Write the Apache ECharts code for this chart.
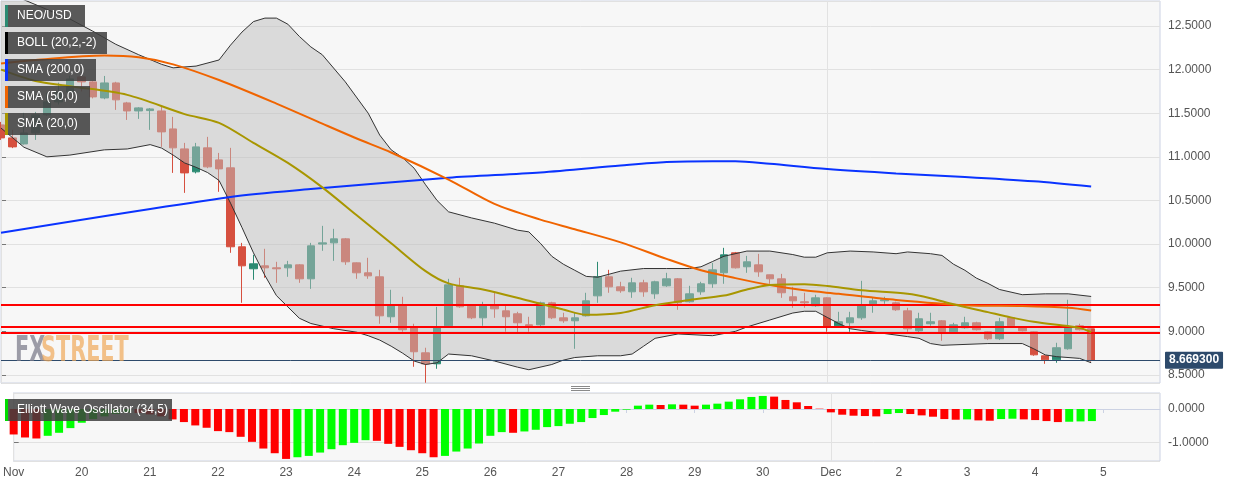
<!DOCTYPE html>
<html><head><meta charset="utf-8">
<script src="https://cdn.jsdelivr.net/npm/echarts@6/dist/echarts.min.js"></script>
<style>html,body{margin:0;padding:0;background:#fff}#c{width:1244px;height:486px}</style>
</head><body><div id="c"></div>
<script>
// x labels, one per day (every 6 four-hour candles), starting Nov 19 00:00
const dayLabels = ['Nov','20','21','22','23','24','25','26','27','28','29','30','Dec','2','3','4','5'];

// NEO/USD 4-hour candles from Nov 19 00:00: [open, close, low, high]
const candles = [
  [11.366,11.217,11.194,11.40],[11.217,11.114,11.10,11.309],[11.148,11.274,11.14,11.504],[11.274,11.481,11.194,11.515],
  [11.481,11.630,11.47,11.733],[11.630,11.744,11.60,11.85],[11.744,11.893,11.73,11.93],[11.916,11.859,11.75,11.93],
  [11.859,11.687,11.67,11.87],[11.675,11.847,11.66,11.927],[11.847,11.653,11.538,11.86],[11.618,11.526,11.423,11.63],
  [11.526,11.561,11.435,11.57],[11.530,11.549,11.309,11.56],[11.526,11.286,11.114,11.572],[11.320,11.103,10.816,11.458],
  [11.091,10.816,10.587,11.160],[10.828,11.114,10.81,11.160],[11.103,10.885,10.87,11.229],[10.965,10.862,10.599,11.045],
  [10.874,9.969,9.90,11.103],[9.969,9.751,9.327,10.014],[9.717,9.774,9.591,9.877],[9.751,9.728,9.614,9.946],
  [9.728,9.717,9.556,9.797],[9.728,9.762,9.625,9.808],[9.762,9.602,9.556,9.770],[9.602,9.980,9.487,10.014],
  [10.000,10.014,9.923,10.209],[10.014,10.060,9.808,10.175],[10.060,9.797,9.762,10.070],[9.785,9.671,9.602,9.790],
  [9.671,9.636,9.602,9.843],[9.625,9.178,9.087,9.705],[9.167,9.304,9.098,9.476],[9.304,9.018,8.995,9.396],
  [9.052,8.766,8.594,9.087],[8.754,8.628,8.411,8.812],[8.628,9.041,8.571,9.281],[9.064,9.533,9.050,9.602],
  [9.522,9.281,9.270,9.614],[9.293,9.155,9.140,9.300],[9.155,9.293,9.064,9.339],[9.304,9.258,9.155,9.442],
  [9.235,9.167,8.995,9.293],[9.201,9.098,8.972,9.224],[9.075,9.064,8.995,9.167],[9.075,9.327,9.060,9.340],
  [9.327,9.155,9.140,9.339],[9.155,9.121,9.098,9.213],[9.121,9.155,8.800,9.213],[9.178,9.350,9.170,9.442],
  [9.407,9.625,9.327,9.797],[9.625,9.510,9.442,9.705],[9.510,9.465,9.442,9.568],[9.453,9.556,9.384,9.614],
  [9.556,9.453,9.396,9.591],[9.430,9.568,9.373,9.580],[9.522,9.602,9.510,9.671],[9.602,9.327,9.247,9.610],
  [9.339,9.430,9.330,9.522],[9.453,9.545,9.419,9.568],[9.545,9.705,9.499,9.785],[9.671,9.877,9.545,9.957],
  [9.900,9.728,9.720,9.910],[9.740,9.797,9.671,9.865],[9.762,9.682,9.625,9.888],[9.648,9.602,9.545,9.650],
  [9.602,9.442,9.384,9.659],[9.396,9.350,9.270,9.510],[9.339,9.327,9.270,9.442],[9.293,9.384,9.281,9.419],
  [9.384,9.052,8.995,9.390],[9.064,9.110,9.050,9.224],[9.098,9.155,8.995,9.224],[9.155,9.293,9.132,9.579],
  [9.316,9.350,9.213,9.384],[9.350,9.362,9.316,9.396],[9.327,9.247,9.235,9.340],[9.235,9.029,8.995,9.270],
  [9.006,9.144,8.990,9.213],[9.087,9.110,9.064,9.213],[9.121,8.983,8.892,9.130],[8.995,9.075,8.980,9.098],
  [9.041,9.098,9.030,9.167],[9.098,9.018,9.010,9.110],[8.995,8.915,8.900,9.000],[8.915,9.110,8.900,9.155],
  [9.155,9.064,9.050,9.160],[9.041,9.006,9.000,9.050],[8.995,8.731,8.720,9.000],[8.720,8.674,8.628,8.720],
  [8.674,8.812,8.640,8.869],[8.800,9.041,8.790,9.362],[9.064,9.018,9.010,9.087],[9.029,8.6693,8.650,9.030]
];

// Bollinger (20,2) upper / lower, sampled at candle indices
const bbUpperIdx = [0,2,4,6,8,10,12,14,15,17,19,20,21,22,23,24,25,26,27,28,30,32,33,34,35,36,37,38,39,41,43,45,46,47,48,49,50,51,52,54,56,58,60,61,62,63,65,67,69,70,71,72,74,76,78,79,81,82,83,84,85,86,87,89,91,93,95];
const bbUpper = [12.89,12.80,12.69,12.58,12.44,12.29,12.17,12.06,12.02,12.04,12.11,12.28,12.43,12.55,12.59,12.59,12.52,12.38,12.26,12.17,11.86,11.50,11.25,11.08,10.99,10.87,10.68,10.50,10.37,10.30,10.24,10.16,10.14,10.01,9.86,9.77,9.70,9.63,9.62,9.69,9.72,9.72,9.72,9.74,9.80,9.86,9.92,9.92,9.88,9.85,9.85,9.90,9.92,9.91,9.89,9.91,9.89,9.87,9.77,9.70,9.61,9.55,9.48,9.42,9.43,9.43,9.40];
const bbLowerIdx = [0,2,4,6,9,11,13,14,15,16,17,18,19,20,21,22,23,24,25,26,27,29,31,32,33,34,35,36,37,38,39,41,43,45,46,48,49,50,52,54,55,56,57,59,62,64,65,67,69,70,71,72,73,74,75,79,80,81,82,86,89,90,91,92,94,95];
const bbLower = [11.33,11.11,11.00,11.02,11.08,11.09,11.14,11.10,11.02,10.93,10.88,10.82,10.73,10.47,10.19,9.90,9.64,9.41,9.28,9.15,9.09,9.03,8.99,8.95,8.90,8.83,8.75,8.66,8.62,8.64,8.74,8.72,8.66,8.59,8.56,8.62,8.67,8.70,8.72,8.72,8.74,8.83,8.92,8.97,8.95,9.00,9.05,9.13,9.21,9.23,9.23,9.16,9.09,9.03,9.01,8.94,8.92,8.86,8.84,8.86,8.86,8.80,8.73,8.71,8.69,8.64];

// Moving averages, sampled at candle indices
const sma200Idx = [0,20,27,39,47,54,58,62,64,67,72,78,84,90,95];
const sma200 = [10.13,10.54,10.63,10.76,10.82,10.90,10.94,10.95,10.95,10.92,10.86,10.81,10.77,10.72,10.66];
const sma50Idx = [0,3,9,12,15,19,24,28,31,34,39,43,47,50,54,58,61,64,67,70,73,78,84,89,93,95];
const sma50 = [12.07,12.11,12.16,12.14,12.06,11.88,11.61,11.38,11.21,11.05,10.74,10.46,10.28,10.17,10.02,9.83,9.70,9.61,9.53,9.47,9.43,9.36,9.30,9.29,9.27,9.24];
const sma20Idx = [0,3,6,11,16,19,22,25,28,31,34,37,39,42,46,49,51,54,57,60,63,65,67,70,72,75,79,81,83,86,88,90,93,94,95];
const sma20 = [12.00,11.87,11.81,11.71,11.49,11.39,11.16,10.93,10.65,10.33,10.01,9.69,9.55,9.48,9.35,9.25,9.19,9.21,9.30,9.36,9.41,9.48,9.53,9.54,9.52,9.47,9.43,9.38,9.31,9.22,9.16,9.11,9.06,9.04,8.99];

// Elliott Wave Oscillator (34,5), one per candle
const ewo = [-0.76,-0.85,-0.88,-0.80,-0.71,-0.57,-0.41,-0.30,-0.22,-0.15,-0.10,-0.12,-0.16,-0.22,-0.31,-0.39,
  -0.49,-0.56,-0.66,-0.69,-0.83,-0.98,-1.18,-1.32,-1.49,-1.44,-1.40,-1.30,-1.20,-1.08,-1.01,-0.93,
  -0.95,-1.04,-1.13,-1.23,-1.32,-1.44,-1.40,-1.27,-1.18,-1.03,-0.80,-0.69,-0.71,-0.67,-0.62,-0.54,
  -0.51,-0.44,-0.39,-0.27,-0.18,-0.08,-0.02,0.10,0.13,0.12,0.14,0.13,0.10,0.13,0.16,0.22,
  0.29,0.36,0.39,0.37,0.27,0.20,0.09,0.01,-0.10,-0.17,-0.20,-0.21,-0.22,-0.15,-0.12,-0.15,
  -0.19,-0.23,-0.30,-0.32,-0.31,-0.34,-0.35,-0.30,-0.29,-0.31,-0.33,-0.36,-0.39,-0.38,-0.37,-0.36];

const levels = [9.30, 9.05, 8.98];
const lastPrice = 8.6693;
const monthStarts = [0, 72];

const pairs = (idx, vals) => idx.map((x, k) => [x, vals[k]]);
const FONT = 'Arial, "Liberation Sans", sans-serif';
const AX = '#ccd2e3';

const chart = echarts.init(document.getElementById('c'), null, {renderer: 'canvas'});

const legendItems = [
  {t: 'NEO/USD', c: '#2b8a72', y: 5, w: 80},
  {t: 'BOLL (20,2,-2)', c: '#000000', y: 32, w: 102},
  {t: 'SMA (200,0)', c: '#0a33ff', y: 59, w: 91},
  {t: 'SMA (50,0)', c: '#f06400', y: 86, w: 85},
  {t: 'SMA (20,0)', c: '#a89600', y: 113, w: 85},
  {t: 'Elliott Wave Oscillator (34,5)', c: '#00dd00', y: 399, w: 167}
];
const graphics = [];
legendItems.forEach(it => {
  graphics.push({type: 'rect', left: 5, top: it.y, z: 100, shape: {width: it.w, height: 22}, style: {fill: 'rgba(62,62,62,0.85)'}});
  graphics.push({type: 'rect', left: 5, top: it.y, z: 101, shape: {width: 3, height: 22}, style: {fill: it.c}});
  graphics.push({type: 'text', x: 17, y: it.y + 11, z: 102, style: {text: it.t, fill: '#fff', font: '12px ' + FONT, textVerticalAlign: 'middle'}});
});
graphics.push({type: 'text', x: 15, y: 334, z: 50, scaleX: 0.66, style: {text: 'FX', fill: 'rgba(125,125,140,0.75)', font: 'bold 35px "DejaVu Sans Condensed", "DejaVu Sans"'}});
graphics.push({type: 'text', x: 41, y: 334, z: 50, scaleX: 0.66, style: {text: 'STREET', fill: 'rgba(240,168,88,0.7)', font: 'bold 35px "DejaVu Sans Condensed", "DejaVu Sans"'}});
[386, 388, 390].forEach(y => graphics.push({type: 'line', z: 50, shape: {x1: 571, y1: y + 0.5, x2: 590, y2: y + 0.5}, style: {stroke: '#8a8a8a', lineWidth: 1}}));

const option = {
  animation: false,
  backgroundColor: '#ffffff',
  grid: [
    {left: 1, top: 1, width: 1159, height: 382, show: true, backgroundColor: '#f7f7f7', borderColor: AX, borderWidth: 1},
    {left: 1, top: 393, width: 1159, height: 68, show: true, backgroundColor: '#f7f7f7', borderColor: AX, borderWidth: 1}
  ],
  xAxis: [
    {type: 'value', gridIndex: 0, min: 0, max: 101, interval: 6, axisLabel: {show: false}, axisTick: {show: false}, axisLine: {show: false}, splitLine: {show: false}},
    {type: 'value', gridIndex: 1, min: 0, max: 101, interval: 6,
     axisLabel: {formatter: v => dayLabels[v / 6] || '', showMaxLabel: false, color: '#555', fontSize: 12, fontFamily: FONT, margin: 6},
     axisTick: {show: true, length: 4, lineStyle: {color: AX}}, axisLine: {show: true, lineStyle: {color: AX}}, splitLine: {show: false}}
  ],
  yAxis: [
    {type: 'value', gridIndex: 0, position: 'right', min: 8.408, max: 12.786, splitNumber: 9,
     axisLabel: {formatter: v => v.toFixed(4), showMinLabel: false, showMaxLabel: false, color: '#555', fontSize: 12, fontFamily: FONT, margin: 8},
     axisTick: {show: true, length: 5, lineStyle: {color: '#777'}}, axisLine: {show: true, lineStyle: {color: AX}},
     splitLine: {show: true, lineStyle: {color: '#e1e1e1'}}},
    {type: 'value', gridIndex: 1, position: 'right', min: -1.552, max: 0.478, splitNumber: 2,
     axisLabel: {formatter: v => v.toFixed(4), showMinLabel: false, showMaxLabel: false, color: '#555', fontSize: 12, fontFamily: FONT, margin: 8},
     axisTick: {show: true, length: 5, lineStyle: {color: '#777'}}, axisLine: {show: true, lineStyle: {color: AX}},
     splitLine: {show: true, lineStyle: {color: '#e1e1e1'}}}
  ],
  series: [
    {type: 'candlestick', xAxisIndex: 0, yAxisIndex: 0, z: 2, barWidth: 8,
     data: candles.map((c, i) => [i, c[0], c[1], c[2], c[3]]), encode: {x: 0, y: [1, 2, 3, 4]},
     itemStyle: {color: '#2b8a72', color0: '#d6503f', borderColor: '#2b8a72', borderColor0: '#d6503f', borderWidth: 1},
     markLine: {silent: true, symbol: 'none', z: 1, label: {show: false}, lineStyle: {color: '#e2e2e2', width: 1, type: 'solid'},
                data: monthStarts.map(x => ({xAxis: x}))}},
    {type: 'custom', xAxisIndex: 0, yAxisIndex: 0, z: 3, clip: true, silent: true, data: [[0, 10]],
     renderItem: (params, api) => {
       const pts = [];
       bbUpperIdx.forEach((x, k) => pts.push(api.coord([x, bbUpper[k]])));
       for (let k = bbLowerIdx.length - 1; k >= 0; k--) pts.push(api.coord([bbLowerIdx[k], bbLower[k]]));
       return {type: 'polygon', shape: {points: pts}, style: {fill: 'rgba(190,190,190,0.5)'}};
     }},
    {type: 'line', xAxisIndex: 0, yAxisIndex: 0, z: 4, showSymbol: false, silent: true, data: pairs(bbUpperIdx, bbUpper), lineStyle: {color: '#333', width: 1}},
    {type: 'line', xAxisIndex: 0, yAxisIndex: 0, z: 4, showSymbol: false, silent: true, data: pairs(bbLowerIdx, bbLower), lineStyle: {color: '#333', width: 1}},
    {type: 'line', xAxisIndex: 0, yAxisIndex: 0, z: 5, showSymbol: false, silent: true, smooth: 0.3, data: pairs(sma200Idx, sma200), lineStyle: {color: '#0a33ff', width: 2}},
    {type: 'line', xAxisIndex: 0, yAxisIndex: 0, z: 5, showSymbol: false, silent: true, smooth: 0.3, data: pairs(sma50Idx, sma50), lineStyle: {color: '#f06400', width: 2}},
    {type: 'line', xAxisIndex: 0, yAxisIndex: 0, z: 5, showSymbol: false, silent: true, smooth: 0.3, data: pairs(sma20Idx, sma20), lineStyle: {color: '#a89600', width: 2},
     markLine: {silent: true, symbol: 'none', animation: false,
       data: levels.map(v => ({yAxis: v, lineStyle: {color: '#ff0000', width: 2, type: 'solid'}, label: {show: false}})).concat([
         {yAxis: lastPrice, lineStyle: {color: '#2d4a6b', width: 1, type: 'solid'},
          label: {show: true, position: 'end', distance: 5, formatter: lastPrice.toFixed(6), backgroundColor: '#2d4a6b', color: '#fff',
                  fontWeight: 'bold', fontSize: 12, fontFamily: FONT, padding: [3, 4, 2, 4], borderRadius: 1}}])}},
    {type: 'bar', xAxisIndex: 1, yAxisIndex: 1, z: 2, barWidth: 8, silent: true,
     data: ewo.map((v, i) => [i, v]),
     itemStyle: {color: p => (p.dataIndex > 0 && ewo[p.dataIndex] > ewo[p.dataIndex - 1]) ? '#00ff00' : '#ff0000'},
     markLine: {silent: true, symbol: 'none', z: 1, label: {show: false}, lineStyle: {color: '#e2e2e2', width: 1, type: 'solid'},
                data: monthStarts.map(x => ({xAxis: x}))}}
  ],
  graphic: graphics
};
chart.setOption(option);
</script>
</body></html>
